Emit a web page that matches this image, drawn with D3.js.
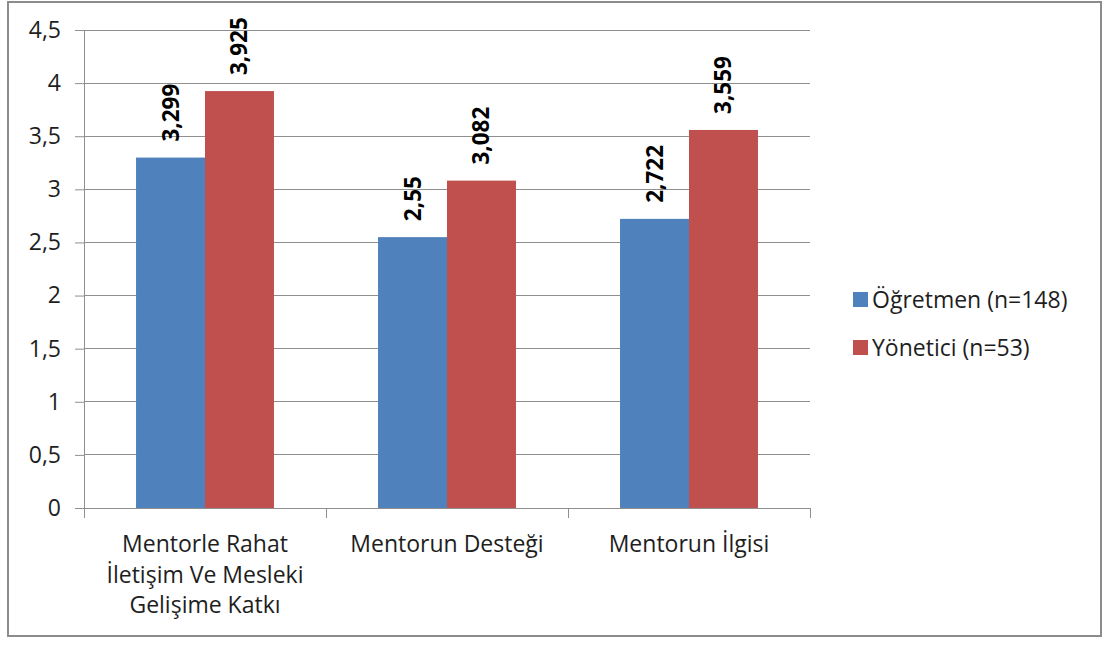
<!DOCTYPE html>
<html>
<head>
<meta charset="utf-8">
<script src="https://cdn.jsdelivr.net/npm/d3@7"></script>
<style>
  html, body { margin: 0; padding: 0; background: #fff; }
  svg { display: block; font-family: "Open Sans", Lato, sans-serif; }
</style>
</head>
<body>
<svg id="chart" width="1118" height="646"></svg>
<script>
// Categories (multi-line labels) and series values
const categories = [
  ["Mentorle Rahat", "İletişim Ve Mesleki", "Gelişime Katkı"],
  ["Mentorun Desteği"],
  ["Mentorun İlgisi"]
];
const seriesNames = ["Öğretmen (n=148)", "Yönetici (n=53)"];
const ogretmen = [3.299, 2.55, 2.722];
const yonetici = [3.925, 3.082, 3.559];
const valueLabelsOgretmen = ["3,299", "2,55", "2,722"];
const valueLabelsYonetici = ["3,925", "3,082", "3,559"];
const yTicks = [0, 0.5, 1, 1.5, 2, 2.5, 3, 3.5, 4, 4.5];
const yTickLabels = ["0", "0,5", "1", "1,5", "2", "2,5", "3", "3,5", "4", "4,5"];
const colors = ["#4f81bd", "#c0504d"];
const textColor = "#1e1e1e";
const gridColor = "#8f8f8f";

const svg = d3.select("#chart");

// Outer frame
svg.append("rect")
  .attr("x", 8).attr("y", 2).attr("width", 1093).attr("height", 634)
  .attr("fill", "#fff").attr("stroke", "#8c8c8c").attr("stroke-width", 2);

const plot = { left: 84, right: 810, top: 30, bottom: 508 };

const catKeys = categories.map((c, i) => i);
const x0 = d3.scaleBand()
  .domain(catKeys)
  .range([plot.left, plot.right])
  .paddingInner(0.43)
  .paddingOuter(0.215);
const x1 = d3.scaleBand()
  .domain([0, 1])
  .range([0, x0.bandwidth()]);
const y = d3.scaleLinear().domain([0, 4.5]).range([plot.bottom, plot.top]);

// Horizontal gridlines
svg.append("g")
  .selectAll("line")
  .data(yTicks.filter(d => d > 0))
  .join("line")
  .attr("x1", plot.left).attr("x2", plot.right)
  .attr("y1", d => y(d)).attr("y2", d => y(d))
  .attr("stroke", gridColor).attr("stroke-width", 1)
  .attr("shape-rendering", "crispEdges");

// Bars
const data = catKeys.map(i => [ogretmen[i], yonetici[i]]);
const labels = catKeys.map(i => [valueLabelsOgretmen[i], valueLabelsYonetici[i]]);
const groups = svg.append("g").selectAll("g")
  .data(catKeys)
  .join("g")
  .attr("transform", i => `translate(${x0(i)},0)`);

groups.selectAll("rect")
  .data(i => data[i].map((v, s) => ({ v, s })))
  .join("rect")
  .attr("x", d => x1(d.s))
  .attr("width", x1.bandwidth())
  .attr("y", d => y(d.v))
  .attr("height", d => y(0) - y(d.v))
  .attr("fill", d => colors[d.s]);

// Rotated value labels above bars
groups.selectAll("text")
  .data(i => data[i].map((v, s) => ({ v, s, t: labels[i][s] })))
  .join("text")
  .attr("transform", d => `translate(${x1(d.s) + x1.bandwidth() / 2 + 8},${y(d.v) - 16}) rotate(-90)`)
  .attr("font-size", 22.5)
  .attr("font-weight", "bold")
  .attr("fill", "#000")
  .text(d => d.t);

// Y axis
const yAxis = d3.axisLeft(y)
  .tickValues(yTicks)
  .tickFormat((d, i) => yTickLabels[i])
  .tickSize(9)
  .tickPadding(14);
const ya = svg.append("g")
  .attr("transform", `translate(${plot.left},0)`)
  .call(yAxis);
ya.select(".domain").attr("stroke", gridColor);
ya.selectAll(".tick line").attr("stroke", gridColor);
ya.selectAll(".tick text")
  .attr("font-size", 23)
  .attr("font-family", "'Open Sans', sans-serif")
  .attr("fill", textColor);

// X axis baseline and category separators
svg.append("line")
  .attr("x1", plot.left).attr("x2", plot.right)
  .attr("y1", plot.bottom).attr("y2", plot.bottom)
  .attr("stroke", gridColor).attr("shape-rendering", "crispEdges");
svg.append("g").selectAll("line")
  .data(catKeys.map(i => x0(i) + x0.bandwidth() / 2 - x0.step() / 2).concat([plot.right]))
  .join("line")
  .attr("x1", d => d).attr("x2", d => d)
  .attr("y1", plot.bottom).attr("y2", plot.bottom + 10)
  .attr("stroke", gridColor).attr("shape-rendering", "crispEdges");

// Category labels
const catText = svg.append("g").selectAll("text")
  .data(catKeys)
  .join("text")
  .attr("x", i => x0(i) + x0.bandwidth() / 2)
  .attr("y", 552)
  .attr("text-anchor", "middle")
  .attr("font-size", 23)
  .attr("fill", textColor);
catText.selectAll("tspan")
  .data(i => categories[i].map((line, k) => ({ line, k, i })))
  .join("tspan")
  .attr("x", d => x0(d.i) + x0.bandwidth() / 2)
  .attr("dy", d => d.k === 0 ? 0 : 30.5)
  .text(d => d.line);

// Legend
const legend = svg.append("g").selectAll("g")
  .data(seriesNames)
  .join("g")
  .attr("transform", (d, i) => `translate(853,${292 + i * 48})`);
legend.append("rect")
  .attr("width", 15).attr("height", 15)
  .attr("fill", (d, i) => colors[i]);
legend.append("text")
  .attr("x", 19).attr("y", 16)
  .attr("font-size", 23)
  .attr("fill", textColor)
  .text(d => d);
</script>
</body>
</html>
